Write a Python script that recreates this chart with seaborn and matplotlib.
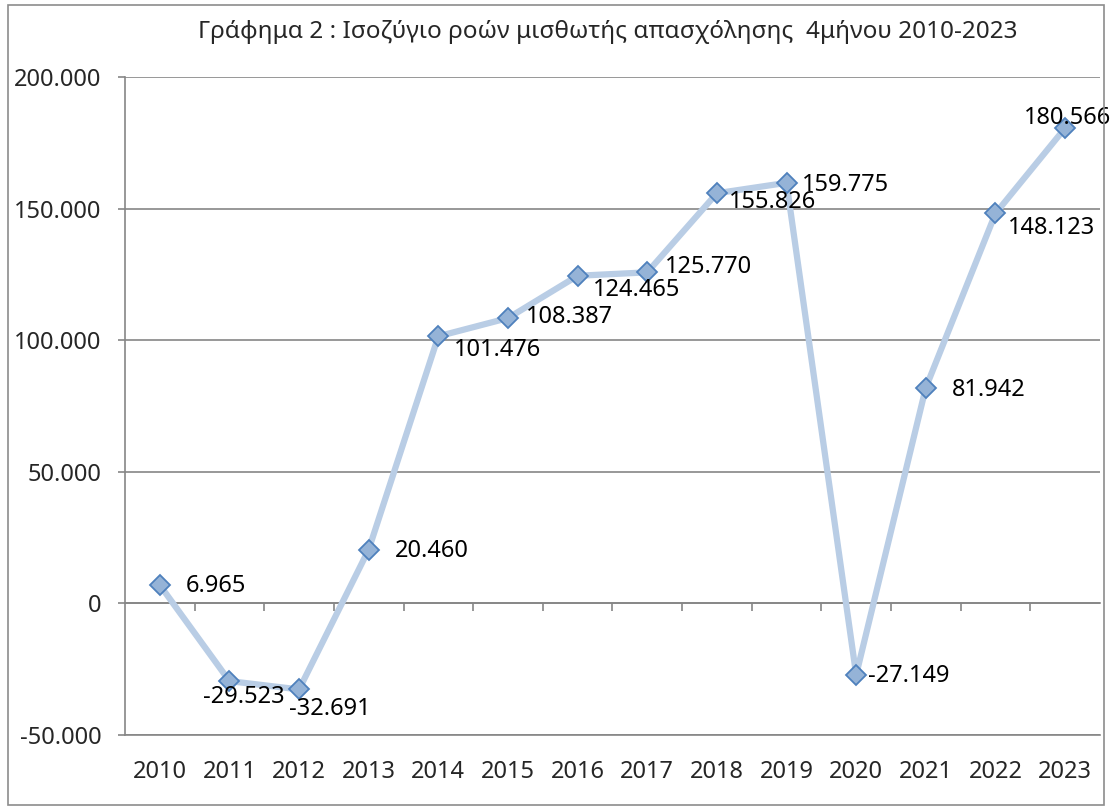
import matplotlib
matplotlib.use("Agg")
import matplotlib.pyplot as plt
import matplotlib.patches as mpatches
import seaborn as sns
import pandas as pd

# Daten
years = ["2010", "2011", "2012", "2013", "2014", "2015", "2016",
         "2017", "2018", "2019", "2020", "2021", "2022", "2023"]
balance = [6965, -29523, -32691, 20460, 101476, 108387, 124465,
           125770, 155826, 159775, -27149, 81942, 148123, 180566]
y_ticks = [-50000, 0, 50000, 100000, 150000, 200000]
title = "Γράφημα 2 : Ισοζύγιο ροών μισθωτής απασχόλησης  4μήνου 2010-2023"

# label offsets in pixels (dx, dy)
label_offsets = [(56, -1), (14, -16), (31, -20), (63, -1), (59, -14), (61, 1), (59, -14),
                 (61, 5), (56, -9), (59, -2), (53, -1), (63, -2), (56, -15), (2, 10)]


def fmt(v):
    return f"{v:,}".replace(",", ".")


sns.set_style("white")
plt.rcParams["font.family"] = ["Noto Sans", "DejaVu Sans"]

df = pd.DataFrame({"pos": range(len(years)), "value": balance})

fig = plt.figure(figsize=(11.11, 8.10), dpi=100)
ax = fig.add_axes([0.1125, 0.0926, 0.8775, 0.8124])

grid_col = "#868686"
ymin, ymax = y_ticks[0], y_ticks[-1]

sns.lineplot(data=df, x="pos", y="value", ax=ax, color="#B9CDE5", linewidth=4.5,
             marker="D", markersize=10.5, markerfacecolor="#95B3D7",
             markeredgecolor="#4F81BD", markeredgewidth=1.3, zorder=3)

for i, v in enumerate(balance):
    dx, dy = label_offsets[i]
    ax.annotate(fmt(v), (i, v), xytext=(dx, dy), textcoords="offset pixels",
                ha="center", va="center", fontsize=17, color="black", zorder=4)

ax.set_xlim(-0.5, len(years) - 0.5)
ax.set_ylim(ymin, ymax)
ax.set_yticks(y_ticks)
ax.set_yticklabels([fmt(t) for t in y_ticks], fontsize=17)
ax.set_xticks(range(len(years)))
ax.set_xticklabels(years, fontsize=17)
ax.tick_params(axis="x", length=0, pad=18)
ax.tick_params(axis="y", length=5, width=1.2, color=grid_col, pad=12, direction="out", left=True)
ax.set_xlabel("")
ax.set_ylabel("")
ax.grid(axis="y", color=grid_col, linewidth=1.2)
ax.grid(axis="x", visible=False)
for side in ["top", "right"]:
    ax.spines[side].set_visible(False)
for side in ["left", "bottom"]:
    ax.spines[side].set_color(grid_col)
    ax.spines[side].set_linewidth(1.2)

# zero line axis with category tick marks
zero_loc = (0 - ymin) / (ymax - ymin)
sec = ax.secondary_xaxis(zero_loc)
sec.set_xticks([i + 0.5 for i in range(len(years) - 1)])
sec.set_xticklabels([])
sec.tick_params(axis="x", direction="out", length=6, width=1.2, color=grid_col)
sec.spines["bottom"].set_color(grid_col)
sec.spines["bottom"].set_linewidth(1.2)

fig.text(0.547, 1 - 32 / 810, title, ha="center", va="center", fontsize=17.5)

fig.patches.append(mpatches.Rectangle((0.007, 0.006), 0.987, 0.988, transform=fig.transFigure,
                                      fill=False, edgecolor="#8C8C8C", linewidth=1.2))

fig.savefig("out.png", dpi=100)
